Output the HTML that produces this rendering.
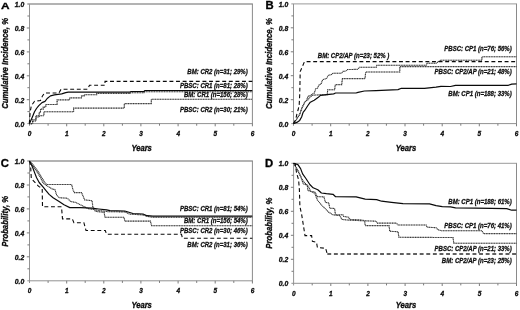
<!DOCTYPE html>
<html lang="en"><head><meta charset="utf-8"><title>Figure</title>
<style>html,body{margin:0;padding:0;background:#fff;}svg{display:block;font-family:'Liberation Sans', Arial, Helvetica, sans-serif;}</style>
</head><body>
<svg width="520" height="310" viewBox="0 0 520 310">
<defs><filter id="soft" x="0" y="0" width="520" height="310" filterUnits="userSpaceOnUse" color-interpolation-filters="sRGB"><feGaussianBlur stdDeviation="0.33"/></filter></defs>
<rect x="0" y="0" width="520" height="310" fill="#fff"/>
<g filter="url(#soft)">
<g stroke="#929292" stroke-width="1" fill="none">
<line x1="27.3" y1="4.05" x2="252.9" y2="4.05" stroke="#9a9a9a" stroke-width="1.4"/>
<line x1="252.4" y1="4.05" x2="252.4" y2="124.1" stroke="#8a8a8a"/>
<line x1="29.5" y1="4.05" x2="29.5" y2="125.8"/>
<line x1="27.3" y1="123.6" x2="252.9" y2="123.6"/>
<line x1="27.4" y1="111.6" x2="29.5" y2="111.6" stroke="#7c7c7c"/>
<line x1="26.8" y1="99.7" x2="29.5" y2="99.7" stroke="#7c7c7c"/>
<line x1="27.4" y1="87.7" x2="29.5" y2="87.7" stroke="#7c7c7c"/>
<line x1="26.8" y1="75.8" x2="29.5" y2="75.8" stroke="#7c7c7c"/>
<line x1="27.4" y1="63.8" x2="29.5" y2="63.8" stroke="#7c7c7c"/>
<line x1="26.8" y1="51.9" x2="29.5" y2="51.9" stroke="#7c7c7c"/>
<line x1="27.4" y1="39.9" x2="29.5" y2="39.9" stroke="#7c7c7c"/>
<line x1="26.8" y1="28.0" x2="29.5" y2="28.0" stroke="#7c7c7c"/>
<line x1="27.4" y1="16.0" x2="29.5" y2="16.0" stroke="#7c7c7c"/>
<line x1="48.1" y1="123.6" x2="48.1" y2="125.7" stroke="#7c7c7c"/>
<line x1="66.7" y1="123.6" x2="66.7" y2="126.3" stroke="#7c7c7c"/>
<line x1="85.2" y1="123.6" x2="85.2" y2="125.7" stroke="#7c7c7c"/>
<line x1="103.8" y1="123.6" x2="103.8" y2="126.3" stroke="#7c7c7c"/>
<line x1="122.4" y1="123.6" x2="122.4" y2="125.7" stroke="#7c7c7c"/>
<line x1="140.9" y1="123.6" x2="140.9" y2="126.3" stroke="#7c7c7c"/>
<line x1="159.5" y1="123.6" x2="159.5" y2="125.7" stroke="#7c7c7c"/>
<line x1="178.1" y1="123.6" x2="178.1" y2="126.3" stroke="#7c7c7c"/>
<line x1="196.7" y1="123.6" x2="196.7" y2="125.7" stroke="#7c7c7c"/>
<line x1="215.2" y1="123.6" x2="215.2" y2="126.3" stroke="#7c7c7c"/>
<line x1="233.8" y1="123.6" x2="233.8" y2="125.7" stroke="#7c7c7c"/>
<line x1="252.4" y1="123.6" x2="252.4" y2="126.3" stroke="#7c7c7c"/>
</g>
<text transform="translate(1.1,9.3) scale(1.25,1)" font-size="9.5" font-weight="bold" fill="#000" stroke="#000" stroke-width="0.3">A</text>
<g font-size="7.4" font-weight="bold" font-style="italic" fill="#0a0a0a" stroke="#0a0a0a" stroke-width="0.32" text-anchor="end">
<text transform="translate(24.2,126.7) scale(0.92,1)">0.0</text>
<text transform="translate(24.2,102.8) scale(0.92,1)">0.2</text>
<text transform="translate(24.2,78.9) scale(0.92,1)">0.4</text>
<text transform="translate(24.2,55.0) scale(0.92,1)">0.6</text>
<text transform="translate(24.2,31.1) scale(0.92,1)">0.8</text>
<text transform="translate(24.2,7.1) scale(0.92,1)">1.0</text>
</g>
<g font-size="7.4" font-weight="bold" font-style="italic" fill="#0a0a0a" stroke="#0a0a0a" stroke-width="0.32" text-anchor="middle">
<text transform="translate(29.6,136.4) scale(0.875,1)">0</text>
<text transform="translate(66.8,136.4) scale(0.875,1)">1</text>
<text transform="translate(103.9,136.4) scale(0.875,1)">2</text>
<text transform="translate(141.0,136.4) scale(0.875,1)">3</text>
<text transform="translate(178.2,136.4) scale(0.875,1)">4</text>
<text transform="translate(215.3,136.4) scale(0.875,1)">5</text>
<text transform="translate(252.5,136.4) scale(0.875,1)">6</text>
</g>
<text transform="translate(141.6,151.2) scale(0.875,1)" font-size="8.7" font-weight="bold" font-style="italic" fill="#0a0a0a" stroke="#0a0a0a" stroke-width="0.34" text-anchor="middle">Years</text>
<text transform="translate(8.2,63.4) rotate(-90) scale(0.875,1)" font-size="8.88" font-weight="bold" font-style="italic" fill="#0a0a0a" stroke="#0a0a0a" stroke-width="0.34" text-anchor="middle">Cumulative Incidence, %</text>
<polyline stroke="#a8a8a8" stroke-width="0.85" fill="none" points="29.3,123.6 32.6,123.6 32.6,121.0 35.9,121.0 35.9,117.0 39.2,117.0 39.2,115.7 43.5,115.7 43.9,115.7 43.9,111.8 73.0,111.8 73.6,111.8 73.6,108.1 124.3,108.1 124.3,103.6 151.3,103.6 151.3,99.3 252.3,99.3"/>
<polyline stroke="#262626" stroke-width="1.1" fill="none" stroke-dasharray="0.85 0.8" points="29.3,123.6 32.6,123.6 32.6,121.0 35.9,121.0 35.9,117.0 39.2,117.0 39.2,115.7 43.5,115.7 43.9,115.7 43.9,111.8 73.0,111.8 73.6,111.8 73.6,108.1 124.3,108.1 124.3,103.6 151.3,103.6 151.3,99.3 252.3,99.3"/>
<polyline stroke="#a8a8a8" stroke-width="0.85" fill="none" points="29.3,123.6 32.6,123.6 32.6,119.7 35.9,119.7 35.9,115.7 39.2,115.7 39.2,112.4 40.5,112.4 40.5,109.1 43.2,109.1 43.2,107.1 45.8,107.1 45.8,104.5 55.1,104.5 57.1,104.5 57.1,99.9 69.0,99.9 69.6,99.9 69.6,97.9 80.2,97.9 81.5,97.9 81.5,95.9 84.2,95.9 84.2,94.7 96.7,94.7 96.7,93.4 129.8,93.4 129.8,92.7 143.9,92.7 143.9,91.7 252.3,91.7"/>
<polyline stroke="#262626" stroke-width="1.1" fill="none" stroke-dasharray="0.85 0.8" points="29.3,123.6 32.6,123.6 32.6,119.7 35.9,119.7 35.9,115.7 39.2,115.7 39.2,112.4 40.5,112.4 40.5,109.1 43.2,109.1 43.2,107.1 45.8,107.1 45.8,104.5 55.1,104.5 57.1,104.5 57.1,99.9 69.0,99.9 69.6,99.9 69.6,97.9 80.2,97.9 81.5,97.9 81.5,95.9 84.2,95.9 84.2,94.7 96.7,94.7 96.7,93.4 129.8,93.4 129.8,92.7 143.9,92.7 143.9,91.7 252.3,91.7"/>
<polyline stroke="#0a0a0a" stroke-width="1.1" fill="none" stroke-dasharray="3.9 2.7" points="29.3,123.6 30.2,112.0 31.3,105.8 34.6,101.2 40.5,100.5 42.5,95.9 44.5,93.0 59.0,93.0 61.0,89.3 87.5,89.3 89.5,85.3 105.0,85.3 105.0,81.4 252.3,81.4"/>
<polyline stroke="#0a0a0a" stroke-width="1.2" fill="none" stroke-linejoin="round" points="29.5,123.6 30.6,121.0 32.6,116.4 34.5,111.8 36.5,108.5 38.8,105.6 42.0,102.6 45.0,101.4 47.2,98.5 50.5,95.9 54.4,94.8 61.7,93.9 65.7,92.6 68.3,92.2 129.8,92.2 131.0,91.5 143.9,91.5 145.0,90.5 252.3,90.5"/>
<text transform="translate(247.7,73.8) scale(0.9,1)" font-size="6.7" font-weight="bold" font-style="italic" fill="#101010" stroke="#101010" stroke-width="0.28" text-anchor="end">BM: CR2 (n=31; 29%)</text>
<text transform="translate(247.7,87.7) scale(0.9,1)" font-size="6.7" font-weight="bold" font-style="italic" fill="#101010" stroke="#101010" stroke-width="0.28" text-anchor="end">PBSC: CR1 (n=81; 28%)</text>
<text transform="translate(247.7,97.3) scale(0.9,1)" font-size="6.7" font-weight="bold" font-style="italic" fill="#101010" stroke="#101010" stroke-width="0.28" text-anchor="end">BM: CR1 (n=156; 28%)</text>
<text transform="translate(247.7,111.5) scale(0.9,1)" font-size="6.7" font-weight="bold" font-style="italic" fill="#101010" stroke="#101010" stroke-width="0.28" text-anchor="end">PBSC: CR2 (n=30; 21%)</text>
<g stroke="#929292" stroke-width="1" fill="none">
<line x1="291.3" y1="3.9" x2="517.0" y2="3.9" stroke="#9a9a9a" stroke-width="1.0"/>
<line x1="516.5" y1="3.9" x2="516.5" y2="124.1" stroke="#8a8a8a"/>
<line x1="293.5" y1="3.9" x2="293.5" y2="125.8"/>
<line x1="291.3" y1="123.6" x2="517.0" y2="123.6"/>
<line x1="291.4" y1="111.6" x2="293.5" y2="111.6" stroke="#7c7c7c"/>
<line x1="290.8" y1="99.7" x2="293.5" y2="99.7" stroke="#7c7c7c"/>
<line x1="291.4" y1="87.7" x2="293.5" y2="87.7" stroke="#7c7c7c"/>
<line x1="290.8" y1="75.7" x2="293.5" y2="75.7" stroke="#7c7c7c"/>
<line x1="291.4" y1="63.7" x2="293.5" y2="63.7" stroke="#7c7c7c"/>
<line x1="290.8" y1="51.8" x2="293.5" y2="51.8" stroke="#7c7c7c"/>
<line x1="291.4" y1="39.8" x2="293.5" y2="39.8" stroke="#7c7c7c"/>
<line x1="290.8" y1="27.8" x2="293.5" y2="27.8" stroke="#7c7c7c"/>
<line x1="291.4" y1="15.9" x2="293.5" y2="15.9" stroke="#7c7c7c"/>
<line x1="312.1" y1="123.6" x2="312.1" y2="125.7" stroke="#7c7c7c"/>
<line x1="330.7" y1="123.6" x2="330.7" y2="126.3" stroke="#7c7c7c"/>
<line x1="349.2" y1="123.6" x2="349.2" y2="125.7" stroke="#7c7c7c"/>
<line x1="367.8" y1="123.6" x2="367.8" y2="126.3" stroke="#7c7c7c"/>
<line x1="386.4" y1="123.6" x2="386.4" y2="125.7" stroke="#7c7c7c"/>
<line x1="405.0" y1="123.6" x2="405.0" y2="126.3" stroke="#7c7c7c"/>
<line x1="423.6" y1="123.6" x2="423.6" y2="125.7" stroke="#7c7c7c"/>
<line x1="442.2" y1="123.6" x2="442.2" y2="126.3" stroke="#7c7c7c"/>
<line x1="460.8" y1="123.6" x2="460.8" y2="125.7" stroke="#7c7c7c"/>
<line x1="479.3" y1="123.6" x2="479.3" y2="126.3" stroke="#7c7c7c"/>
<line x1="497.9" y1="123.6" x2="497.9" y2="125.7" stroke="#7c7c7c"/>
<line x1="516.5" y1="123.6" x2="516.5" y2="126.3" stroke="#7c7c7c"/>
</g>
<text transform="translate(265.4,9.3) scale(1.12,1)" font-size="10.1" font-weight="bold" fill="#000" stroke="#000" stroke-width="0.3">B</text>
<g font-size="7.4" font-weight="bold" font-style="italic" fill="#0a0a0a" stroke="#0a0a0a" stroke-width="0.32" text-anchor="end">
<text transform="translate(288.2,126.7) scale(0.92,1)">0.0</text>
<text transform="translate(288.2,102.8) scale(0.92,1)">0.2</text>
<text transform="translate(288.2,78.8) scale(0.92,1)">0.4</text>
<text transform="translate(288.2,54.9) scale(0.92,1)">0.6</text>
<text transform="translate(288.2,30.9) scale(0.92,1)">0.8</text>
<text transform="translate(288.2,7.0) scale(0.92,1)">1.0</text>
</g>
<g font-size="7.4" font-weight="bold" font-style="italic" fill="#0a0a0a" stroke="#0a0a0a" stroke-width="0.32" text-anchor="middle">
<text transform="translate(293.6,136.4) scale(0.875,1)">0</text>
<text transform="translate(330.8,136.4) scale(0.875,1)">1</text>
<text transform="translate(367.9,136.4) scale(0.875,1)">2</text>
<text transform="translate(405.1,136.4) scale(0.875,1)">3</text>
<text transform="translate(442.3,136.4) scale(0.875,1)">4</text>
<text transform="translate(479.4,136.4) scale(0.875,1)">5</text>
<text transform="translate(516.6,136.4) scale(0.875,1)">6</text>
</g>
<text transform="translate(406,150.8) scale(0.875,1)" font-size="8.7" font-weight="bold" font-style="italic" fill="#0a0a0a" stroke="#0a0a0a" stroke-width="0.34" text-anchor="middle">Years</text>
<text transform="translate(272.0,63.6) rotate(-90) scale(0.875,1)" font-size="8.88" font-weight="bold" font-style="italic" fill="#0a0a0a" stroke="#0a0a0a" stroke-width="0.34" text-anchor="middle">Cumulative Incidence, %</text>
<polyline stroke="#a8a8a8" stroke-width="0.85" fill="none" points="293.5,123.6 297.3,118.2 299.7,114.3 302.1,107.6 304.5,102.7 305.6,101.0 307.6,100.4 309.8,97.2 312.5,95.2 320.4,94.8 327.2,94.8 327.7,89.8 334.6,89.8 335.3,84.7 341.7,84.6 342.4,78.6 365.0,78.6 365.7,72.0 399.8,72.0 399.8,66.6 516.5,66.6"/>
<polyline stroke="#262626" stroke-width="1.1" fill="none" stroke-dasharray="0.85 0.8" points="293.5,123.6 297.3,118.2 299.7,114.3 302.1,107.6 304.5,102.7 305.6,101.0 307.6,100.4 309.8,97.2 312.5,95.2 320.4,94.8 327.2,94.8 327.7,89.8 334.6,89.8 335.3,84.7 341.7,84.6 342.4,78.6 365.0,78.6 365.7,72.0 399.8,72.0 399.8,66.6 516.5,66.6"/>
<polyline stroke="#a8a8a8" stroke-width="0.85" fill="none" points="293.5,123.6 297.3,118.2 299.7,114.3 302.1,107.6 304.5,102.7 306.9,99.8 307.9,96.2 310.0,95.7 313.2,93.6 314.3,93.1 315.8,88.6 317.5,88.2 319.3,84.5 321.0,84.2 322.6,79.8 326.5,78.5 328.5,75.2 331.0,74.8 333.1,73.2 341.7,73.2 343.0,71.4 345.5,71.2 347.5,69.6 357.6,69.3 359.6,67.3 376.3,67.3 376.8,65.3 426.2,65.3 427.0,63.2 436.1,63.2 440.6,60.2 481.9,60.2 481.9,56.8 516.5,56.8"/>
<polyline stroke="#262626" stroke-width="1.1" fill="none" stroke-dasharray="0.85 0.8" points="293.5,123.6 297.3,118.2 299.7,114.3 302.1,107.6 304.5,102.7 306.9,99.8 307.9,96.2 310.0,95.7 313.2,93.6 314.3,93.1 315.8,88.6 317.5,88.2 319.3,84.5 321.0,84.2 322.6,79.8 326.5,78.5 328.5,75.2 331.0,74.8 333.1,73.2 341.7,73.2 343.0,71.4 345.5,71.2 347.5,69.6 357.6,69.3 359.6,67.3 376.3,67.3 376.8,65.3 426.2,65.3 427.0,63.2 436.1,63.2 440.6,60.2 481.9,60.2 481.9,56.8 516.5,56.8"/>
<polyline stroke="#0a0a0a" stroke-width="1.1" fill="none" stroke-dasharray="3.9 2.7" points="293.5,123.6 295.8,119.2 296.8,114.3 298.2,109.5 299.2,104.7 299.7,95.0 299.9,86.6 300.2,71.5 302.4,66.5 304.5,61.6 516.5,61.6"/>
<polyline stroke="#0a0a0a" stroke-width="1.2" fill="none" stroke-linejoin="round" points="293.5,123.6 296.8,122.4 299.7,120.4 301.6,117.0 303.1,112.4 305.5,109.3 307.9,105.5 310.3,102.2 314.2,100.2 318.0,97.6 320.5,95.4 327.0,94.6 333.7,93.9 335.6,93.0 356.0,93.0 358.0,92.4 364.4,91.0 376.0,90.6 398.0,89.6 401.4,88.3 424.5,88.3 436.0,87.1 441.0,86.3 450.5,86.5 455.5,85.3 508.4,85.3 511.7,84.1 516.5,83.8"/>
<text transform="translate(317.8,57.5) scale(0.9,1)" font-size="6.7" font-weight="bold" font-style="italic" fill="#101010" stroke="#101010" stroke-width="0.28" text-anchor="start">BM: CP2/AP (n=23; 52% )</text>
<text transform="translate(511.7,51.2) scale(0.9,1)" font-size="6.7" font-weight="bold" font-style="italic" fill="#101010" stroke="#101010" stroke-width="0.28" text-anchor="end">PBSC: CP1 (n=76; 56%)</text>
<text transform="translate(511.7,74.3) scale(0.9,1)" font-size="6.7" font-weight="bold" font-style="italic" fill="#101010" stroke="#101010" stroke-width="0.28" text-anchor="end">PBSC: CP2/AP (n=21; 48%)</text>
<text transform="translate(511.7,96.2) scale(0.9,1)" font-size="6.7" font-weight="bold" font-style="italic" fill="#101010" stroke="#101010" stroke-width="0.28" text-anchor="end">BM: CP1 (n=188; 33%)</text>
<g stroke="#929292" stroke-width="1" fill="none">
<line x1="27.3" y1="161.0" x2="252.9" y2="161.0" stroke="#9a9a9a" stroke-width="1.4"/>
<line x1="252.4" y1="161.0" x2="252.4" y2="281.3" stroke="#8a8a8a"/>
<line x1="29.5" y1="161.0" x2="29.5" y2="283.0"/>
<line x1="27.3" y1="280.8" x2="252.9" y2="280.8"/>
<line x1="27.4" y1="268.8" x2="29.5" y2="268.8" stroke="#7c7c7c"/>
<line x1="26.8" y1="256.8" x2="29.5" y2="256.8" stroke="#7c7c7c"/>
<line x1="27.4" y1="244.9" x2="29.5" y2="244.9" stroke="#7c7c7c"/>
<line x1="26.8" y1="232.9" x2="29.5" y2="232.9" stroke="#7c7c7c"/>
<line x1="27.4" y1="220.9" x2="29.5" y2="220.9" stroke="#7c7c7c"/>
<line x1="26.8" y1="208.9" x2="29.5" y2="208.9" stroke="#7c7c7c"/>
<line x1="27.4" y1="196.9" x2="29.5" y2="196.9" stroke="#7c7c7c"/>
<line x1="26.8" y1="185.0" x2="29.5" y2="185.0" stroke="#7c7c7c"/>
<line x1="27.4" y1="173.0" x2="29.5" y2="173.0" stroke="#7c7c7c"/>
<line x1="48.1" y1="280.8" x2="48.1" y2="282.9" stroke="#7c7c7c"/>
<line x1="66.7" y1="280.8" x2="66.7" y2="283.5" stroke="#7c7c7c"/>
<line x1="85.2" y1="280.8" x2="85.2" y2="282.9" stroke="#7c7c7c"/>
<line x1="103.8" y1="280.8" x2="103.8" y2="283.5" stroke="#7c7c7c"/>
<line x1="122.4" y1="280.8" x2="122.4" y2="282.9" stroke="#7c7c7c"/>
<line x1="140.9" y1="280.8" x2="140.9" y2="283.5" stroke="#7c7c7c"/>
<line x1="159.5" y1="280.8" x2="159.5" y2="282.9" stroke="#7c7c7c"/>
<line x1="178.1" y1="280.8" x2="178.1" y2="283.5" stroke="#7c7c7c"/>
<line x1="196.7" y1="280.8" x2="196.7" y2="282.9" stroke="#7c7c7c"/>
<line x1="215.2" y1="280.8" x2="215.2" y2="283.5" stroke="#7c7c7c"/>
<line x1="233.8" y1="280.8" x2="233.8" y2="282.9" stroke="#7c7c7c"/>
<line x1="252.4" y1="280.8" x2="252.4" y2="283.5" stroke="#7c7c7c"/>
</g>
<text transform="translate(0.8,166.7) scale(1.12,1)" font-size="10.1" font-weight="bold" fill="#000" stroke="#000" stroke-width="0.3">C</text>
<g font-size="7.4" font-weight="bold" font-style="italic" fill="#0a0a0a" stroke="#0a0a0a" stroke-width="0.32" text-anchor="end">
<text transform="translate(24.2,283.9) scale(0.92,1)">0.0</text>
<text transform="translate(24.2,259.9) scale(0.92,1)">0.2</text>
<text transform="translate(24.2,236.0) scale(0.92,1)">0.4</text>
<text transform="translate(24.2,212.0) scale(0.92,1)">0.6</text>
<text transform="translate(24.2,188.1) scale(0.92,1)">0.8</text>
<text transform="translate(24.2,164.1) scale(0.92,1)">1.0</text>
</g>
<g font-size="7.4" font-weight="bold" font-style="italic" fill="#0a0a0a" stroke="#0a0a0a" stroke-width="0.32" text-anchor="middle">
<text transform="translate(29.6,293.1) scale(0.875,1)">0</text>
<text transform="translate(66.8,293.1) scale(0.875,1)">1</text>
<text transform="translate(103.9,293.1) scale(0.875,1)">2</text>
<text transform="translate(141.0,293.1) scale(0.875,1)">3</text>
<text transform="translate(178.2,293.1) scale(0.875,1)">4</text>
<text transform="translate(215.3,293.1) scale(0.875,1)">5</text>
<text transform="translate(252.5,293.1) scale(0.875,1)">6</text>
</g>
<text transform="translate(141.6,307.6) scale(0.875,1)" font-size="8.7" font-weight="bold" font-style="italic" fill="#0a0a0a" stroke="#0a0a0a" stroke-width="0.34" text-anchor="middle">Years</text>
<text transform="translate(8.2,221.3) rotate(-90) scale(0.875,1)" font-size="8.88" font-weight="bold" font-style="italic" fill="#0a0a0a" stroke="#0a0a0a" stroke-width="0.34" text-anchor="middle">Probability, %</text>
<polyline stroke="#a8a8a8" stroke-width="0.85" fill="none" points="29.5,161.0 33.9,165.9 37.9,171.2 41.9,177.8 45.2,183.1 46.5,184.5 71.6,184.5 73.0,189.7 74.3,192.6 81.6,192.6 82.9,195.7 84.7,199.9 92.1,200.7 92.9,207.3 95.4,211.4 104.1,212.3 105.0,217.3 124.0,217.3 124.8,221.1 150.4,221.1 151.6,225.7 252.3,225.7"/>
<polyline stroke="#262626" stroke-width="1.1" fill="none" stroke-dasharray="0.85 0.8" points="29.5,161.0 33.9,165.9 37.9,171.2 41.9,177.8 45.2,183.1 46.5,184.5 71.6,184.5 73.0,189.7 74.3,192.6 81.6,192.6 82.9,195.7 84.7,199.9 92.1,200.7 92.9,207.3 95.4,211.4 104.1,212.3 105.0,217.3 124.0,217.3 124.8,221.1 150.4,221.1 151.6,225.7 252.3,225.7"/>
<polyline stroke="#a8a8a8" stroke-width="0.85" fill="none" points="29.5,161.0 33.9,167.2 37.9,173.2 40.6,177.8 43.2,183.1 45.8,185.1 49.1,187.1 52.5,189.1 54.9,189.5 56.6,194.9 59.1,197.7 67.3,198.2 70.6,201.5 75.6,202.4 80.5,204.8 83.9,206.5 88.0,208.6 95.4,209.8 100.0,210.7 108.3,211.7 124.8,211.9 129.8,214.2 143.0,214.9 147.1,216.4 152.9,217.3 252.3,217.3"/>
<polyline stroke="#262626" stroke-width="1.1" fill="none" stroke-dasharray="0.85 0.8" points="29.5,161.0 33.9,167.2 37.9,173.2 40.6,177.8 43.2,183.1 45.8,185.1 49.1,187.1 52.5,189.1 54.9,189.5 56.6,194.9 59.1,197.7 67.3,198.2 70.6,201.5 75.6,202.4 80.5,204.8 83.9,206.5 88.0,208.6 95.4,209.8 100.0,210.7 108.3,211.7 124.8,211.9 129.8,214.2 143.0,214.9 147.1,216.4 152.9,217.3 252.3,217.3"/>
<polyline stroke="#0a0a0a" stroke-width="1.1" fill="none" stroke-dasharray="3.9 2.7" points="29.5,161.0 30.6,166.0 31.3,178.5 38.6,186.4 42.2,188.4 42.5,206.8 61.5,206.8 62.5,218.9 72.3,218.9 73.9,222.7 83.9,222.7 86.0,230.5 105.3,230.5 106.6,234.3 181.5,234.3 182.5,238.3 252.3,238.3"/>
<polyline stroke="#0a0a0a" stroke-width="1.2" fill="none" stroke-linejoin="round" points="29.5,161.0 32.6,167.3 34.6,172.6 36.6,177.8 39.2,182.5 43.2,187.1 45.8,190.4 49.1,194.4 53.1,197.7 59.1,201.5 64.0,204.8 69.8,207.6 80.5,207.6 92.1,208.1 98.7,209.0 106.6,209.9 109.9,210.7 124.8,211.0 133.0,213.5 143.0,214.0 147.1,215.7 152.9,216.2 252.3,216.2"/>
<text transform="translate(247.7,210.7) scale(0.9,1)" font-size="6.7" font-weight="bold" font-style="italic" fill="#101010" stroke="#101010" stroke-width="0.28" text-anchor="end">PBSC: CR1 (n=81; 54%)</text>
<text transform="translate(247.7,223.2) scale(0.9,1)" font-size="6.7" font-weight="bold" font-style="italic" fill="#101010" stroke="#101010" stroke-width="0.28" text-anchor="end">BM: CR1 (n=156; 54%)</text>
<text transform="translate(247.7,232.6) scale(0.9,1)" font-size="6.7" font-weight="bold" font-style="italic" fill="#101010" stroke="#101010" stroke-width="0.28" text-anchor="end">PBSC: CR2 (n=30; 46%)</text>
<text transform="translate(247.7,247.1) scale(0.9,1)" font-size="6.7" font-weight="bold" font-style="italic" fill="#101010" stroke="#101010" stroke-width="0.28" text-anchor="end">BM: CR2 (n=31; 36%)</text>
<g stroke="#929292" stroke-width="1" fill="none">
<line x1="291.4" y1="163.3" x2="517.0" y2="163.3" stroke="#9a9a9a" stroke-width="1.0"/>
<line x1="516.5" y1="163.3" x2="516.5" y2="283.8" stroke="#8a8a8a"/>
<line x1="293.6" y1="163.3" x2="293.6" y2="285.5"/>
<line x1="291.4" y1="283.3" x2="517.0" y2="283.3"/>
<line x1="291.5" y1="271.3" x2="293.6" y2="271.3" stroke="#7c7c7c"/>
<line x1="290.9" y1="259.3" x2="293.6" y2="259.3" stroke="#7c7c7c"/>
<line x1="291.5" y1="247.3" x2="293.6" y2="247.3" stroke="#7c7c7c"/>
<line x1="290.9" y1="235.3" x2="293.6" y2="235.3" stroke="#7c7c7c"/>
<line x1="291.5" y1="223.3" x2="293.6" y2="223.3" stroke="#7c7c7c"/>
<line x1="290.9" y1="211.3" x2="293.6" y2="211.3" stroke="#7c7c7c"/>
<line x1="291.5" y1="199.3" x2="293.6" y2="199.3" stroke="#7c7c7c"/>
<line x1="290.9" y1="187.3" x2="293.6" y2="187.3" stroke="#7c7c7c"/>
<line x1="291.5" y1="175.3" x2="293.6" y2="175.3" stroke="#7c7c7c"/>
<line x1="312.2" y1="283.3" x2="312.2" y2="285.4" stroke="#7c7c7c"/>
<line x1="330.8" y1="283.3" x2="330.8" y2="286.0" stroke="#7c7c7c"/>
<line x1="349.3" y1="283.3" x2="349.3" y2="285.4" stroke="#7c7c7c"/>
<line x1="367.9" y1="283.3" x2="367.9" y2="286.0" stroke="#7c7c7c"/>
<line x1="386.5" y1="283.3" x2="386.5" y2="285.4" stroke="#7c7c7c"/>
<line x1="405.1" y1="283.3" x2="405.1" y2="286.0" stroke="#7c7c7c"/>
<line x1="423.6" y1="283.3" x2="423.6" y2="285.4" stroke="#7c7c7c"/>
<line x1="442.2" y1="283.3" x2="442.2" y2="286.0" stroke="#7c7c7c"/>
<line x1="460.8" y1="283.3" x2="460.8" y2="285.4" stroke="#7c7c7c"/>
<line x1="479.4" y1="283.3" x2="479.4" y2="286.0" stroke="#7c7c7c"/>
<line x1="497.9" y1="283.3" x2="497.9" y2="285.4" stroke="#7c7c7c"/>
<line x1="516.5" y1="283.3" x2="516.5" y2="286.0" stroke="#7c7c7c"/>
</g>
<text transform="translate(264.9,166.7) scale(1.12,1)" font-size="10.1" font-weight="bold" fill="#000" stroke="#000" stroke-width="0.3">D</text>
<g font-size="7.4" font-weight="bold" font-style="italic" fill="#0a0a0a" stroke="#0a0a0a" stroke-width="0.32" text-anchor="end">
<text transform="translate(288.3,286.4) scale(0.92,1)">0.0</text>
<text transform="translate(288.3,262.4) scale(0.92,1)">0.2</text>
<text transform="translate(288.3,238.4) scale(0.92,1)">0.4</text>
<text transform="translate(288.3,214.4) scale(0.92,1)">0.6</text>
<text transform="translate(288.3,190.4) scale(0.92,1)">0.8</text>
<text transform="translate(288.3,166.4) scale(0.92,1)">1.0</text>
</g>
<g font-size="7.4" font-weight="bold" font-style="italic" fill="#0a0a0a" stroke="#0a0a0a" stroke-width="0.32" text-anchor="middle">
<text transform="translate(293.7,295.6) scale(0.875,1)">0</text>
<text transform="translate(330.9,295.6) scale(0.875,1)">1</text>
<text transform="translate(368.0,295.6) scale(0.875,1)">2</text>
<text transform="translate(405.2,295.6) scale(0.875,1)">3</text>
<text transform="translate(442.3,295.6) scale(0.875,1)">4</text>
<text transform="translate(479.5,295.6) scale(0.875,1)">5</text>
<text transform="translate(516.6,295.6) scale(0.875,1)">6</text>
</g>
<text transform="translate(406,307.6) scale(0.875,1)" font-size="8.7" font-weight="bold" font-style="italic" fill="#0a0a0a" stroke="#0a0a0a" stroke-width="0.34" text-anchor="middle">Years</text>
<text transform="translate(272.0,223.2) rotate(-90) scale(0.875,1)" font-size="8.88" font-weight="bold" font-style="italic" fill="#0a0a0a" stroke="#0a0a0a" stroke-width="0.34" text-anchor="middle">Probability, %</text>
<polyline stroke="#a8a8a8" stroke-width="0.85" fill="none" points="293.6,163.3 297.3,169.3 300.6,175.9 303.2,183.8 307.2,185.1 307.9,190.4 311.8,191.7 314.8,191.9 317.3,196.6 323.9,196.9 325.5,202.4 328.8,202.9 329.7,208.2 334.6,208.5 335.5,214.8 342.9,214.8 343.7,216.4 348.7,217.3 349.5,219.4 359.4,219.8 364.5,220.6 365.3,225.6 389.0,225.6 389.8,231.3 398.1,231.7 398.9,237.3 453.0,237.5 453.8,243.2 516.5,243.2"/>
<polyline stroke="#262626" stroke-width="1.1" fill="none" stroke-dasharray="0.85 0.8" points="293.6,163.3 297.3,169.3 300.6,175.9 303.2,183.8 307.2,185.1 307.9,190.4 311.8,191.7 314.8,191.9 317.3,196.6 323.9,196.9 325.5,202.4 328.8,202.9 329.7,208.2 334.6,208.5 335.5,214.8 342.9,214.8 343.7,216.4 348.7,217.3 349.5,219.4 359.4,219.8 364.5,220.6 365.3,225.6 389.0,225.6 389.8,231.3 398.1,231.7 398.9,237.3 453.0,237.5 453.8,243.2 516.5,243.2"/>
<polyline stroke="#a8a8a8" stroke-width="0.85" fill="none" points="293.6,163.3 297.3,169.9 300.6,176.5 303.2,181.2 308.5,186.5 310.5,191.1 314.8,193.3 317.3,199.9 320.6,204.0 324.7,208.2 328.8,212.3 333.0,214.8 339.6,215.6 342.0,219.4 347.9,220.1 359.4,220.6 376.0,221.2 377.4,223.1 396.4,223.1 398.1,225.0 426.2,225.0 427.0,227.2 436.1,227.7 437.8,229.7 441.4,230.7 481.9,230.7 483.6,233.6 516.5,233.6"/>
<polyline stroke="#262626" stroke-width="1.1" fill="none" stroke-dasharray="0.85 0.8" points="293.6,163.3 297.3,169.9 300.6,176.5 303.2,181.2 308.5,186.5 310.5,191.1 314.8,193.3 317.3,199.9 320.6,204.0 324.7,208.2 328.8,212.3 333.0,214.8 339.6,215.6 342.0,219.4 347.9,220.1 359.4,220.6 376.0,221.2 377.4,223.1 396.4,223.1 398.1,225.0 426.2,225.0 427.0,227.2 436.1,227.7 437.8,229.7 441.4,230.7 481.9,230.7 483.6,233.6 516.5,233.6"/>
<polyline stroke="#0a0a0a" stroke-width="1.1" fill="none" stroke-dasharray="3.9 2.7" points="293.6,163.3 295.3,164.0 296.6,173.2 298.6,179.8 299.4,190.0 299.9,206.5 301.7,214.9 303.3,224.8 305.0,235.6 311.6,235.6 312.4,241.4 316.5,242.2 317.4,247.6 325.6,248.3 327.3,254.1"/>
<polyline stroke="#2e2e2e" stroke-width="1.5" fill="none" stroke-dasharray="3.9 2.7" points="327.3,254.1 516.5,254.1"/>
<polyline stroke="#0a0a0a" stroke-width="1.2" fill="none" stroke-linejoin="round" points="293.6,163.3 297.9,164.6 300.6,168.6 302.6,173.9 305.9,178.5 309.8,184.5 313.1,187.8 317.8,189.8 321.4,193.0 326.4,193.7 333.0,194.3 335.6,196.7 356.1,196.9 365.2,199.1 376.6,199.6 381.6,201.2 391.5,202.4 403.0,203.6 429.5,203.9 436.1,205.7 442.3,206.6 450.5,206.9 455.5,207.9 475.3,208.2 506.7,208.6 511.7,210.2 516.5,210.2"/>
<text transform="translate(511.7,203.9) scale(0.9,1)" font-size="6.7" font-weight="bold" font-style="italic" fill="#101010" stroke="#101010" stroke-width="0.28" text-anchor="end">BM: CP1 (n=188; 61%)</text>
<text transform="translate(511.7,227.7) scale(0.9,1)" font-size="6.7" font-weight="bold" font-style="italic" fill="#101010" stroke="#101010" stroke-width="0.28" text-anchor="end">PBSC: CP1 (n=76; 41%)</text>
<text transform="translate(511.7,250.7) scale(0.9,1)" font-size="6.7" font-weight="bold" font-style="italic" fill="#101010" stroke="#101010" stroke-width="0.28" text-anchor="end">PBSC: CP2/AP (n=21; 33%)</text>
<text transform="translate(511.7,262.9) scale(0.9,1)" font-size="6.7" font-weight="bold" font-style="italic" fill="#101010" stroke="#101010" stroke-width="0.28" text-anchor="end">BM: CP2/AP (n=23; 25%)</text>
</g>
</svg>
</body></html>
